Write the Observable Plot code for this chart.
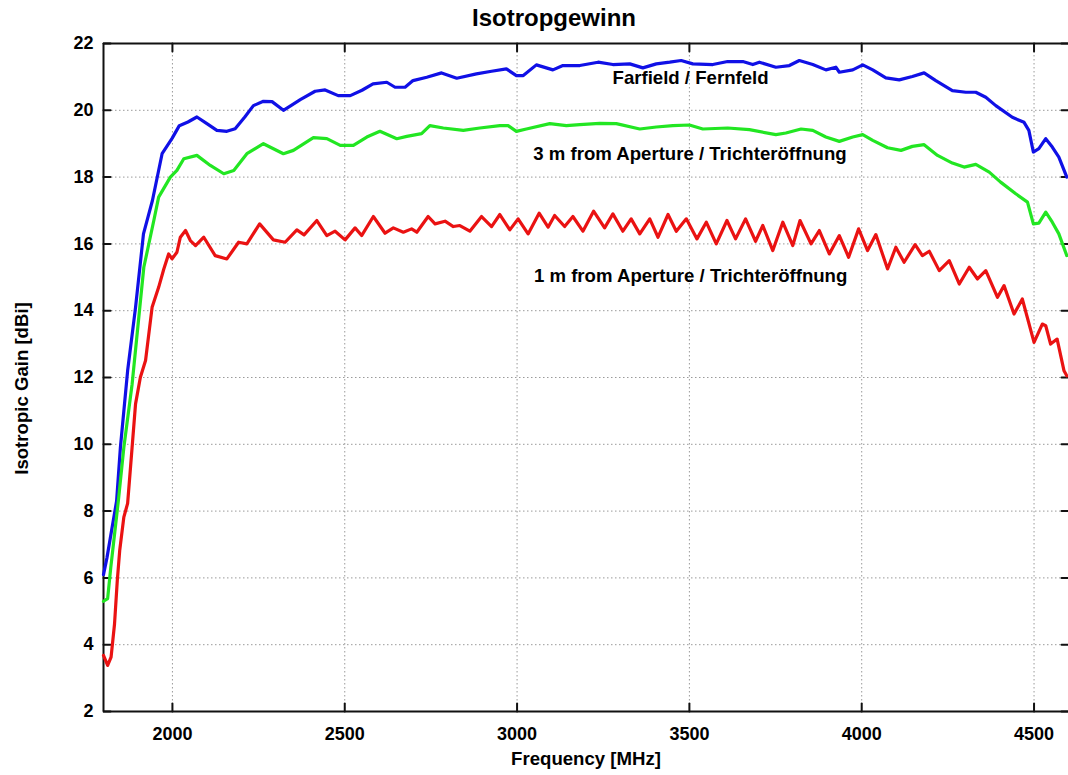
<!DOCTYPE html>
<html>
<head>
<meta charset="utf-8">
<script src="https://cdn.jsdelivr.net/npm/d3@7"></script>
<script src="https://cdn.jsdelivr.net/npm/@observablehq/plot@0.6"></script>
<style>
  html, body { margin: 0; padding: 0; background: #fff; }
  #title { width: 1068px; height: 35px; line-height: 35px; box-sizing: border-box; padding-left: 40px;
           text-align: center; font-family: 'Liberation Sans', Arial, sans-serif; font-weight: bold; font-size: 24px; color: #000; }
</style>
</head>
<body>
<div id="title">Isotropgewinn</div>
<div id="chart"></div>
<script>
const xDomain = [1800, 4600];
const yDomain = [2, 22];
const xTicks = [2000, 2500, 3000, 3500, 4000, 4500];
const yTicks = [2, 4, 6, 8, 10, 12, 14, 16, 18, 20, 22];

const blueF = [1800,1810,1838,1849,1870,1893,1916,1942,1970,1999,2020,2045,2071,2100,2129,2158,2182,2210,2235,2264,2289,2322,2345,2371,2414,2443,2481,2516,2550,2582,2622,2646,2675,2698,2738,2781,2825,2882,2926,2969,2998,3018,3056,3104,3133,3182,3235,3278,3327,3365,3404,3443,3476,3510,3568,3611,3655,3684,3703,3751,3790,3819,3858,3896,3925,3935,3974,4003,4032,4070,4109,4147,4181,4215,4263,4302,4331,4360,4389,4437,4471,4485,4498,4514,4534,4553,4572,4595];
const blueV = [6.1,6.6,8.3,9.9,12.2,14.1,16.3,17.3,18.7,19.16,19.54,19.65,19.8,19.6,19.4,19.37,19.45,19.8,20.14,20.27,20.26,20.0,20.15,20.32,20.57,20.61,20.44,20.44,20.6,20.79,20.84,20.69,20.69,20.89,20.99,21.12,20.96,21.09,21.17,21.24,21.04,21.04,21.36,21.21,21.34,21.34,21.44,21.37,21.39,21.27,21.39,21.44,21.49,21.39,21.37,21.46,21.46,21.37,21.44,21.29,21.34,21.49,21.37,21.21,21.29,21.14,21.21,21.36,21.21,20.97,20.91,21.01,21.12,20.89,20.59,20.54,20.54,20.39,20.14,19.79,19.64,19.4,18.75,18.85,19.15,18.9,18.6,18.0];

const greenF = [1800,1812,1821,1843,1859,1883,1917,1946,1960,1994,2013,2033,2071,2110,2149,2178,2216,2264,2293,2322,2351,2409,2448,2487,2525,2564,2602,2651,2680,2723,2747,2786,2844,2892,2950,2974,2998,3027,3095,3143,3182,3240,3288,3356,3404,3452,3500,3539,3611,3674,3751,3780,3824,3858,3896,3935,3974,4003,4032,4075,4114,4147,4181,4220,4263,4297,4331,4370,4403,4447,4481,4498,4514,4534,4553,4572,4595];
const greenV = [5.3,5.38,6.3,8.3,9.9,11.8,15.3,16.7,17.4,18.0,18.2,18.55,18.65,18.35,18.1,18.2,18.7,19.0,18.85,18.7,18.8,19.18,19.15,18.95,18.95,19.2,19.37,19.15,19.22,19.3,19.54,19.47,19.4,19.47,19.54,19.54,19.37,19.44,19.6,19.54,19.57,19.61,19.6,19.44,19.5,19.54,19.56,19.44,19.47,19.42,19.27,19.32,19.44,19.4,19.2,19.07,19.2,19.27,19.1,18.88,18.8,18.92,18.97,18.65,18.42,18.3,18.38,18.15,17.85,17.5,17.25,16.6,16.62,16.95,16.65,16.3,15.65];

const redF = [1800,1812,1822,1832,1840,1847,1859,1870,1883,1893,1907,1922,1941,1960,1975,1989,1999,2013,2023,2038,2052,2067,2091,2124,2158,2192,2216,2253,2293,2327,2361,2382,2419,2448,2472,2501,2530,2549,2583,2617,2641,2670,2694,2709,2742,2762,2791,2815,2834,2863,2897,2926,2950,2979,3003,3032,3064,3090,3109,3138,3162,3191,3222,3254,3278,3307,3331,3356,3385,3409,3438,3462,3491,3522,3549,3578,3609,3634,3663,3692,3713,3742,3771,3800,3821,3853,3877,3906,3935,3962,3991,4017,4041,4075,4099,4123,4155,4176,4196,4225,4254,4283,4312,4336,4360,4394,4413,4442,4466,4500,4524,4534,4548,4567,4587,4595];
const redV = [3.68,3.38,3.63,4.62,5.92,6.82,7.82,8.23,9.91,11.21,12.01,12.51,14.1,14.7,15.25,15.7,15.55,15.75,16.2,16.4,16.1,15.95,16.2,15.65,15.55,16.05,16.0,16.6,16.12,16.05,16.42,16.27,16.7,16.25,16.38,16.12,16.48,16.25,16.82,16.32,16.48,16.35,16.45,16.35,16.82,16.6,16.68,16.52,16.55,16.38,16.82,16.52,16.88,16.42,16.75,16.3,16.92,16.5,16.85,16.52,16.82,16.38,16.98,16.48,16.9,16.38,16.75,16.3,16.75,16.2,16.88,16.38,16.75,16.15,16.65,16.0,16.7,16.15,16.75,16.08,16.55,15.8,16.65,15.95,16.7,16.0,16.4,15.7,16.25,15.6,16.45,15.8,16.28,15.25,15.9,15.45,15.98,15.65,15.78,15.2,15.5,14.8,15.3,14.95,15.2,14.4,14.75,13.9,14.35,13.05,13.6,13.55,13.0,13.15,12.2,12.05];

const labelText = ["Farfield / Fernfeld", "3 m from Aperture / Trichteröffnung", "1 m from Aperture / Trichteröffnung"];
const labelX = [3277, 3047, 3049];
const labelY = [20.97, 18.68, 15.05];

const series = [
  {F: blueF, V: blueV, color: "#1010e6"},
  {F: greenF, V: greenV, color: "#22e622"},
  {F: redF, V: redV, color: "#ea1212"}
];

const tickShape = {draw(ctx, l) { ctx.moveTo(0, 0); ctx.lineTo(0, -l); }};
const frameColor = "#111";
const gridStyle = {stroke: "#9a9a9a", strokeOpacity: 1, strokeWidth: 1, strokeDasharray: "1.5,2.5"};

const lineMarks = series.map(s => Plot.line(s.F.map((f, i) => ({f, v: s.V[i]})), {
  x: "f", y: "v", stroke: s.color, strokeWidth: 3.2, strokeLinejoin: "round", strokeLinecap: "round"
}));

const chart = Plot.plot({
  width: 1068,
  height: 740,
  marginTop: 8,
  marginBottom: 64,
  marginLeft: 103,
  marginRight: 0,
  style: {fontFamily: "'Liberation Sans', Arial, sans-serif", fontSize: "18px", fontWeight: "bold", color: "#000", background: "#fff", overflow: "visible"},
  x: {domain: xDomain},
  y: {domain: yDomain},
  marks: [
    Plot.gridX(xTicks, gridStyle),
    Plot.gridY(yTicks, gridStyle),
    Plot.ruleX([xDomain[0]], {stroke: frameColor, strokeWidth: 2}),
    Plot.ruleY([yDomain[0], yDomain[1]], {stroke: frameColor, strokeWidth: 2}),
    Plot.vector(xTicks, {x: d => d, y: () => yDomain[0], length: 8, rotate: 0, anchor: "start", shape: tickShape, stroke: frameColor, strokeWidth: 2}),
    Plot.vector(xTicks, {x: d => d, y: () => yDomain[1], length: 8, rotate: 180, anchor: "start", shape: tickShape, stroke: frameColor, strokeWidth: 2}),
    Plot.vector(yTicks, {x: () => xDomain[0], y: d => d, length: 7, rotate: 90, anchor: "start", shape: tickShape, stroke: frameColor, strokeWidth: 2}),
    Plot.vector(yTicks, {x: () => xDomain[1], y: d => d, length: 7, rotate: 270, anchor: "start", shape: tickShape, stroke: frameColor, strokeWidth: 2}),
    Plot.axisX(xTicks, {tickSize: 0, tickPadding: 16, tickFormat: d => String(d), label: null, fill: "#000"}),
    Plot.axisY(yTicks, {tickSize: 0, tickPadding: 10, tickFormat: d => String(d), label: null, fill: "#000"}),
    ...lineMarks,
    Plot.text(labelText, {x: (d, i) => labelX[i], y: (d, i) => labelY[i], text: d => d, textAnchor: "start", fill: "#000", fontSize: 18.6, fontWeight: "bold"}),
    Plot.text(["Frequency [MHz]"], {frameAnchor: "bottom", dy: 48, lineAnchor: "middle", textAnchor: "middle", text: d => d, fill: "#000", fontSize: 18.6, fontWeight: "bold"}),
    Plot.text(["Isotropic Gain [dBi]"], {frameAnchor: "left", dx: -81, dy: 11, rotate: -90, lineAnchor: "middle", textAnchor: "middle", text: d => d, fill: "#000", fontSize: 18.6, fontWeight: "bold"})
  ]
});
document.getElementById("chart").appendChild(chart);
</script>
</body>
</html>
